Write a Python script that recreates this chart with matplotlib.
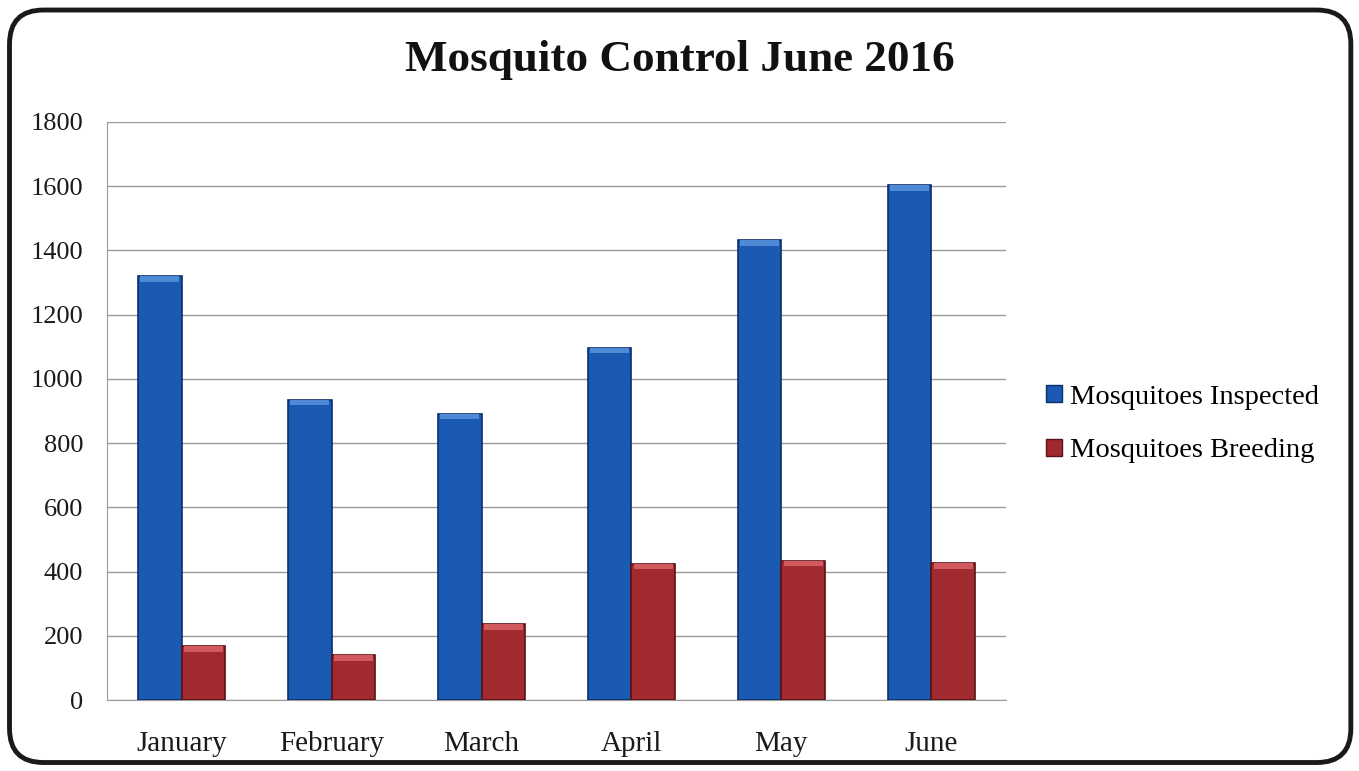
import numpy as np
import matplotlib
matplotlib.use("Agg")
import matplotlib.pyplot as plt
from matplotlib.patches import FancyBboxPatch, Patch

# Data
months = ["January", "February", "March", "April", "May", "June"]
inspected = [1320, 935, 892, 1097, 1432, 1602]
breeding = [167, 140, 236, 425, 434, 427]
y_ticks = [0, 200, 400, 600, 800, 1000, 1200, 1400, 1600, 1800]

blue = "#1a5ab2"
blue_edge = "#0b2f6a"
red = "#a02a2e"
red_edge = "#5a1216"


def main():
    fig = plt.figure(figsize=(13.59, 7.71), dpi=100)
    fig.patch.set_facecolor("white")

    # rounded frame round the whole chart
    frame = FancyBboxPatch(
        (0.007, 0.011), 0.987, 0.976,
        boxstyle="round,pad=0,rounding_size=0.025",
        transform=fig.transFigure,
        facecolor="none", edgecolor="#1a1a1a", linewidth=3.5,
        mutation_aspect=1359 / 771,
    )
    fig.patches.append(frame)

    ax = fig.add_axes([0.0785, 0.092, 0.662, 0.750])

    x = np.arange(len(months))
    w = 0.29
    ax.bar(x - w / 2, inspected, width=w, color=blue,
           edgecolor=blue_edge, linewidth=1.2, zorder=3)
    ax.bar(x + w / 2, breeding, width=w, color=red,
           edgecolor=red_edge, linewidth=1.2, zorder=3)

    # light strip along the top of each bar, like the bevel in the original
    for xi, v in zip(x - w / 2, inspected):
        ax.bar(xi, 18, bottom=v - 18, width=w * 0.9, color="#4f8ad6",
               linewidth=0, zorder=4)
    for xi, v in zip(x + w / 2, breeding):
        ax.bar(xi, 18, bottom=v - 18, width=w * 0.9, color="#d05a5e",
               linewidth=0, zorder=4)

    ax.set_xlim(-0.5, len(months) - 0.5)
    ax.set_ylim(0, 1800)
    ax.set_yticks(y_ticks)
    ax.set_xticks(x)
    ax.set_xticklabels(months)

    serif = ["Liberation Serif", "DejaVu Serif"]
    for lab in ax.get_yticklabels():
        lab.set_fontfamily(serif)
        lab.set_fontsize(19)
        lab.set_color("#1a1a1a")
    for lab in ax.get_xticklabels():
        lab.set_fontfamily(serif)
        lab.set_fontsize(21)
        lab.set_color("#1a1a1a")

    ax.tick_params(axis="y", length=0, pad=17)
    ax.tick_params(axis="x", length=0, pad=22)

    ax.grid(axis="y", color="#9a9a9a", linewidth=1.0, zorder=0)
    for side in ["top", "right"]:
        ax.spines[side].set_visible(False)
    ax.spines["left"].set_color("#9a9a9a")
    ax.spines["bottom"].set_color("#9a9a9a")

    fig.text(0.5, 0.922, "Mosquito Control June 2016",
             ha="center", va="center", fontsize=32.5, fontweight="bold",
             family=serif, color="#111111")

    handles = [
        Patch(facecolor=blue, edgecolor=blue_edge, label="Mosquitoes Inspected"),
        Patch(facecolor=red, edgecolor=red_edge, label="Mosquitoes Breeding"),
    ]
    fig.legend(handles=handles, loc="center left",
               bbox_to_anchor=(0.751, 0.45), frameon=False,
               prop={"family": serif, "size": 20.5},
               handlelength=0.55, handleheight=0.55, handletextpad=0.3,
               labelspacing=1.0)

    fig.savefig("out.png", dpi=100)


if __name__ == "__main__":
    main()
